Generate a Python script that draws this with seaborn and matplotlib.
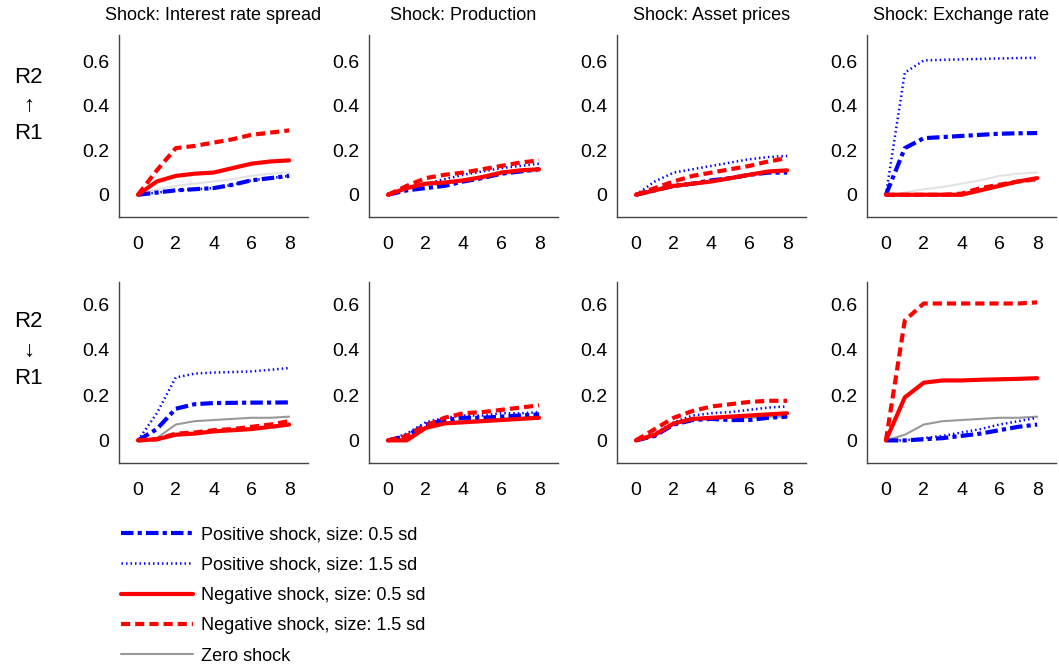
import numpy as np
import pandas as pd
import matplotlib
matplotlib.use("Agg")
import matplotlib.pyplot as plt
from matplotlib.lines import Line2D
import seaborn as sns

sns.set_theme(style="white")
plt.rcParams['font.family'] = ['Liberation Sans', 'DejaVu Sans']
plt.rcParams['text.color'] = 'black'
plt.rcParams['axes.labelcolor'] = 'black'

horizons = [0, 1, 2, 3, 4, 5, 6, 7, 8]
shocks = ["Interest rate spread", "Production", "Asset prices", "Exchange rate"]
row_labels = ["R2\n\u2191\nR1", "R2\n\u2193\nR1"]
series_names = ["Positive shock, size: 0.5 sd", "Positive shock, size: 1.5 sd",
                "Negative shock, size: 0.5 sd", "Negative shock, size: 1.5 sd",
                "Zero shock"]

# Row 1 (R2 -> R1 up)
up_spread_pos05 = [0, 0.01, 0.02, 0.025, 0.03, 0.045, 0.065, 0.075, 0.085]
up_spread_pos15 = [0, 0.01, 0.02, 0.025, 0.03, 0.045, 0.065, 0.075, 0.085]
up_spread_neg05 = [0, 0.06, 0.085, 0.095, 0.10, 0.12, 0.14, 0.15, 0.155]
up_spread_neg15 = [0, 0.11, 0.21, 0.22, 0.235, 0.25, 0.27, 0.28, 0.29]
up_spread_zero = [0, 0.025, 0.04, 0.05, 0.06, 0.07, 0.085, 0.095, 0.10]

up_prod_pos05 = [0, 0.02, 0.03, 0.04, 0.06, 0.075, 0.095, 0.105, 0.115]
up_prod_pos15 = [0, 0.03, 0.05, 0.07, 0.09, 0.105, 0.12, 0.13, 0.14]
up_prod_neg05 = [0, 0.03, 0.05, 0.055, 0.065, 0.08, 0.10, 0.11, 0.115]
up_prod_neg15 = [0, 0.04, 0.075, 0.09, 0.10, 0.115, 0.13, 0.145, 0.155]
up_prod_zero = [0, 0.025, 0.04, 0.05, 0.06, 0.075, 0.09, 0.10, 0.105]

up_asset_pos05 = [0, 0.02, 0.04, 0.05, 0.065, 0.075, 0.09, 0.10, 0.10]
up_asset_pos15 = [0, 0.06, 0.10, 0.115, 0.13, 0.145, 0.16, 0.17, 0.175]
up_asset_neg05 = [0, 0.02, 0.04, 0.05, 0.06, 0.075, 0.09, 0.105, 0.11]
up_asset_neg15 = [0, 0.03, 0.06, 0.085, 0.10, 0.115, 0.13, 0.15, 0.165]
up_asset_zero = [0, 0.02, 0.035, 0.045, 0.055, 0.07, 0.085, 0.095, 0.10]

up_fx_pos05 = [0, 0.21, 0.255, 0.26, 0.265, 0.27, 0.275, 0.277, 0.278]
up_fx_pos15 = [0, 0.55, 0.605, 0.608, 0.61, 0.612, 0.614, 0.616, 0.617]
up_fx_neg05 = [0, 0, 0, 0, 0, 0.02, 0.04, 0.06, 0.075]
up_fx_neg15 = [0, 0, 0, 0, 0.005, 0.03, 0.045, 0.06, 0.07]
up_fx_zero = [0, 0.01, 0.025, 0.035, 0.05, 0.065, 0.085, 0.095, 0.10]

# Row 2 (R2 -> R1 down)
dn_spread_pos05 = [0, 0.05, 0.14, 0.16, 0.165, 0.166, 0.167, 0.167, 0.168]
dn_spread_pos15 = [0, 0.12, 0.278, 0.295, 0.30, 0.302, 0.305, 0.312, 0.32]
dn_spread_neg05 = [0, 0.005, 0.025, 0.03, 0.04, 0.045, 0.05, 0.06, 0.07]
dn_spread_neg15 = [0, 0.005, 0.03, 0.035, 0.045, 0.05, 0.06, 0.07, 0.085]
dn_spread_zero = [0, 0.01, 0.07, 0.085, 0.09, 0.095, 0.10, 0.10, 0.105]

dn_prod_pos05 = [0, 0.02, 0.07, 0.09, 0.10, 0.10, 0.105, 0.11, 0.115]
dn_prod_pos15 = [0, 0.03, 0.08, 0.10, 0.11, 0.11, 0.12, 0.12, 0.125]
dn_prod_neg05 = [0, 0.0, 0.055, 0.075, 0.08, 0.085, 0.09, 0.095, 0.10]
dn_prod_neg15 = [0, 0.02, 0.065, 0.10, 0.12, 0.125, 0.135, 0.145, 0.155]
dn_prod_zero = [0, 0.01, 0.06, 0.08, 0.085, 0.09, 0.095, 0.10, 0.105]

dn_asset_pos05 = [0, 0.02, 0.07, 0.09, 0.095, 0.09, 0.09, 0.10, 0.105]
dn_asset_pos15 = [0, 0.03, 0.08, 0.11, 0.12, 0.125, 0.135, 0.145, 0.15]
dn_asset_neg05 = [0, 0.025, 0.075, 0.095, 0.10, 0.105, 0.11, 0.115, 0.12]
dn_asset_neg15 = [0, 0.05, 0.10, 0.13, 0.15, 0.16, 0.17, 0.175, 0.175]
dn_asset_zero = [0, 0.02, 0.07, 0.09, 0.095, 0.10, 0.10, 0.105, 0.105]

dn_fx_pos05 = [0, 0, 0.005, 0.01, 0.02, 0.03, 0.045, 0.06, 0.07]
dn_fx_pos15 = [0, 0, 0.01, 0.02, 0.035, 0.05, 0.07, 0.085, 0.10]
dn_fx_neg05 = [0, 0.19, 0.255, 0.265, 0.265, 0.268, 0.27, 0.272, 0.275]
dn_fx_neg15 = [0, 0.53, 0.605, 0.605, 0.605, 0.605, 0.605, 0.605, 0.61]
dn_fx_zero = [0, 0.025, 0.07, 0.085, 0.09, 0.095, 0.10, 0.10, 0.105]

panels = [
    [
        [up_spread_pos05, up_spread_pos15, up_spread_neg05, up_spread_neg15, up_spread_zero],
        [up_prod_pos05, up_prod_pos15, up_prod_neg05, up_prod_neg15, up_prod_zero],
        [up_asset_pos05, up_asset_pos15, up_asset_neg05, up_asset_neg15, up_asset_zero],
        [up_fx_pos05, up_fx_pos15, up_fx_neg05, up_fx_neg15, up_fx_zero],
    ],
    [
        [dn_spread_pos05, dn_spread_pos15, dn_spread_neg05, dn_spread_neg15, dn_spread_zero],
        [dn_prod_pos05, dn_prod_pos15, dn_prod_neg05, dn_prod_neg15, dn_prod_zero],
        [dn_asset_pos05, dn_asset_pos15, dn_asset_neg05, dn_asset_neg15, dn_asset_zero],
        [dn_fx_pos05, dn_fx_pos15, dn_fx_neg05, dn_fx_neg15, dn_fx_zero],
    ],
]

zero_colors = ["#e3e3e3", "#999999"]
styles = [
    dict(color="#0000ff", lw=3.0, ls=(0, (3.0, 1.0, 1.0, 1.0))),
    dict(color="#0000ff", lw=1.8, ls=(0, (0.6, 1.2))),
    dict(color="#ff0000", lw=3.0, ls="-"),
    dict(color="#ff0000", lw=3.0, ls=(0, (2.2, 1.2))),
    dict(color="#999999", lw=1.5, ls="-"),
]
draw_order = [4, 0, 1, 2, 3]

fig = plt.figure(figsize=(10.59, 6.67), dpi=100)
lefts = [0.1124, 0.3484, 0.5826, 0.8187]
width = 0.1785
bottoms = [0.6747, 0.3058]
heights = [0.2729, 0.2714]

for r in range(2):
    for c in range(4):
        ax = fig.add_axes([lefts[c], bottoms[r], width, heights[r]])
        for k in draw_order:
            st = styles[k]
            col = zero_colors[r] if k == 4 else st["color"]
            df = pd.DataFrame({"h": horizons, "v": panels[r][c][k]})
            sns.lineplot(data=df, x="h", y="v", ax=ax, color=col,
                         linewidth=st["lw"], linestyle=st["ls"], legend=False)
        ax.set_xlim(-1, 9)
        ax.set_ylim(-0.1, 0.72 if r == 0 else 0.70)
        ax.set_xticks([0, 2, 4, 6, 8])
        ax.set_yticks([0, 0.2, 0.4, 0.6])
        ax.set_yticklabels(["0", "0.2", "0.4", "0.6"])
        ax.set_xlabel("")
        ax.set_ylabel("")
        ax.tick_params(direction="in", length=3, width=0.8, labelsize=14,
                       colors="#444444", labelcolor="black")
        ax.tick_params(axis="x", pad=14)
        ax.tick_params(axis="y", pad=7)
        for s in ["top", "right"]:
            ax.spines[s].set_visible(False)
        for s in ["left", "bottom"]:
            ax.spines[s].set_color("#444444")
            ax.spines[s].set_linewidth(1.0)
        ax.set_facecolor("white")
        ax.grid(False)
        if r == 0:
            ax.set_title("Shock: " + shocks[c], fontsize=13, pad=11, color="black")

fig.text(0.027, 0.842, row_labels[0], ha="center", va="center", fontsize=16,
         linespacing=1.45, color="black")
fig.text(0.027, 0.475, row_labels[1], ha="center", va="center", fontsize=16,
         linespacing=1.45, color="black")

handles = []
for k in range(5):
    st = styles[k]
    handles.append(Line2D([0], [0], color=st["color"], lw=st["lw"], ls=st["ls"]))
leg = fig.legend(handles, series_names, loc="upper left", bbox_to_anchor=(0.107, 0.222),
                 frameon=False, fontsize=13, handlelength=4.0, handletextpad=0.45,
                 labelspacing=0.74, borderaxespad=0)
for t in leg.get_texts():
    t.set_color("black")

fig.savefig("out.png", dpi=100, facecolor="white")
